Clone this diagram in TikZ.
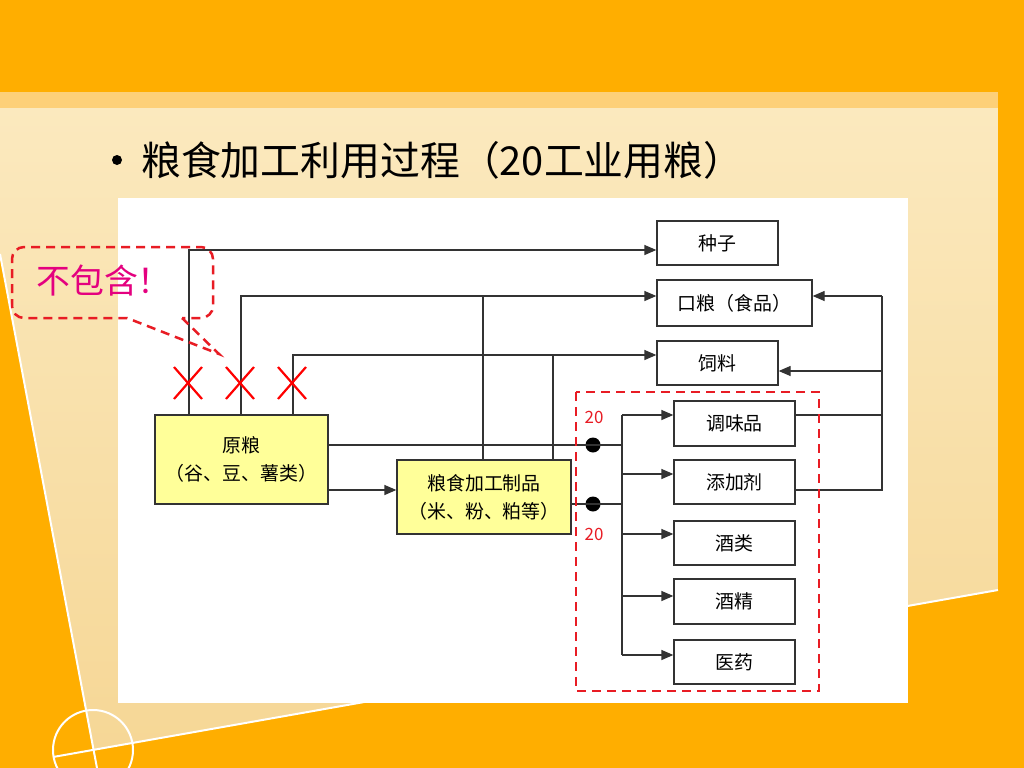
\documentclass[tikz,border=0pt]{standalone}
\usepackage{fontspec}
\setmainfont{Noto Sans CJK SC}
\usepackage{tikz}
\usetikzlibrary{arrows.meta}
\definecolor{slideorange}{RGB}{255,174,0}
\definecolor{slideband}{RGB}{253,208,120}
\definecolor{panellight}{RGB}{251,233,190}
\definecolor{paneldark}{RGB}{246,215,150}
\definecolor{boxyellow}{RGB}{255,255,153}
\definecolor{markred}{RGB}{232,28,36}
\definecolor{notepink}{RGB}{228,0,127}
\tikzset{
	box/.style={draw=black!80, line width=1.3bp, fill=white, minimum width=121bp, minimum height=44bp, inner sep=0pt, font=\fontsize{19}{28}\selectfont, align=center},
	rawbox/.style={box, fill=boxyellow},
	wire/.style={draw=black!80, line width=1.3bp},
	flow/.style={wire, -{Triangle[length=12bp,width=10bp]}},
	joint/.style={circle, fill=black, minimum size=15bp, inner sep=0pt},
	cross/.style={draw=red, line width=2.2bp},
	reddash/.style={draw=markred, line width=2.5bp, dash pattern=on 9bp off 6bp},
	tag/.style={text=markred, font=\fontsize{17}{17}\selectfont, inner sep=0pt}
}

\begin{document}
\begin{tikzpicture}[x=1bp,y=-1bp]
			%%%%% SLIDE %%%%%
			\useasboundingbox (0,0) rectangle (1024,768);
			\fill[slideorange] (0,0) rectangle (1024,768);
			\fill[slideband] (0,92) rectangle (998,108);
			\shade[top color=panellight, bottom color=paneldark] (0,108) -- (998,108) -- (998,590) -- (93,750) -- (0,254) -- cycle;
			\draw[white, line width=2bp] (0,254) -- (97,768);
			\draw[white, line width=2bp] (53,757) -- (998,590);
			\draw[white, line width=2bp] (93,750) circle (40bp);
			\fill[white] (118,198) rectangle (908,703);
			
			\node[circle, fill=black, minimum size=10bp, inner sep=0pt] (bullet) at (117,160) {};
			\node[anchor=west, inner sep=0pt, font=\fontsize{40}{40}\selectfont] (title) at (141,160) {粮食加工利用过程（20工业用粮）};
			
			%%%%% BOXES %%%%%
			\node[box] (seed) at (717.5,243) {种子};
			\node[box, minimum width=155bp, minimum height=46bp] (food) at (734.5,303) {口粮（食品）};
			\node[box] (feed) at (717.5,363) {饲料};
			\node[box, minimum height=45bp] (seasoning) at (734.5,423.5) {调味品};
			\node[box] (additive) at (734.5,482) {添加剂};
			\node[box] (liquor) at (734.5,543) {酒类};
			\node[box, minimum height=45bp] (alcohol) at (734.5,601.5) {酒精};
			\node[box] (medicine) at (734.5,662) {医药};
			\node[rawbox, minimum width=173bp, minimum height=89bp] (raw) at (241.5,459.5) {原粮\\（谷、豆、薯类）};
			\node[rawbox, minimum width=174bp, minimum height=74bp] (product) at (484,497) {粮食加工制品\\（米、粉、粕等）};
			
			%%%%% LINES %%%%%
			\coordinate (railSeed) at (189,250);
			\coordinate (railFood) at (241,296);
			\coordinate (railFeed) at (293,355);
			\draw[flow] (raw.north -| railSeed) |- (seed.west |- railSeed);
			\draw[flow] (raw.north -| railFood) |- (food.west |- railFood);
			\draw[flow] (raw.north -| railFeed) |- (feed.west |- railFeed);
			
			\coordinate (upFood) at (483,296);
			\coordinate (upFeed) at (553,355);
			\draw[wire] (product.north -| upFood) -- (upFood);
			\draw[wire] (product.north -| upFeed) -- (upFeed);
			
			\coordinate (toProduct) at (360,490);
			\draw[flow] (raw.east |- toProduct) -- (product.west |- toProduct);
			
			\foreach \name/\yy in {seasoning/415,additive/474,liquor/534,alcohol/596,medicine/655}{
				\coordinate (t-\name) at (622,\yy);
				\draw[flow] (t-\name) -- (\name.west |- t-\name);
			}
			\draw[wire] (t-seasoning) -- (t-medicine);
			
			\node[joint] (jointRaw) at (593,445) {};
			\node[joint] (jointProduct) at (593,504) {};
			\draw[wire] (raw.east |- jointRaw) -- (t-seasoning |- jointRaw);
			\draw[wire] (product.east |- jointProduct) -- (t-seasoning |- jointProduct);
			\node[tag] (tagRaw) at (594,417) {20};
			\node[tag] (tagProduct) at (594,534) {20};
			
			\coordinate (backFood) at (882,296);
			\coordinate (backFeed) at (882,371);
			\coordinate (backSeas) at (882,415);
			\coordinate (backAdd) at (882,490);
			\draw[wire] (seasoning.east |- backSeas) -- (backSeas);
			\draw[wire] (additive.east |- backAdd) -- (backAdd) -- (backFood);
			\draw[flow] (backFood) -- (food.east |- backFood);
			\draw[flow] (backFeed) -- (feed.east |- backFeed);
			
			%%%%% MARKS %%%%%
			\draw[reddash] (576,392) rectangle (819,691);
			\foreach \x in {188,240,292}
				\draw[cross] (\x-14,367) -- (\x+14,399) (\x-14,399) -- (\x+14,367);
			
			\draw[reddash] (182,318) -- (219,354) -- (127,318) [rounded corners=12bp] -- (12,318) -- (12,247) -- (213,247) -- (213,318) -- (182,318);
			\node[text=notepink, font=\fontsize{34}{34}\selectfont] (note) at (104,281) {不包含！};
			
		\end{tikzpicture}
\end{document}
